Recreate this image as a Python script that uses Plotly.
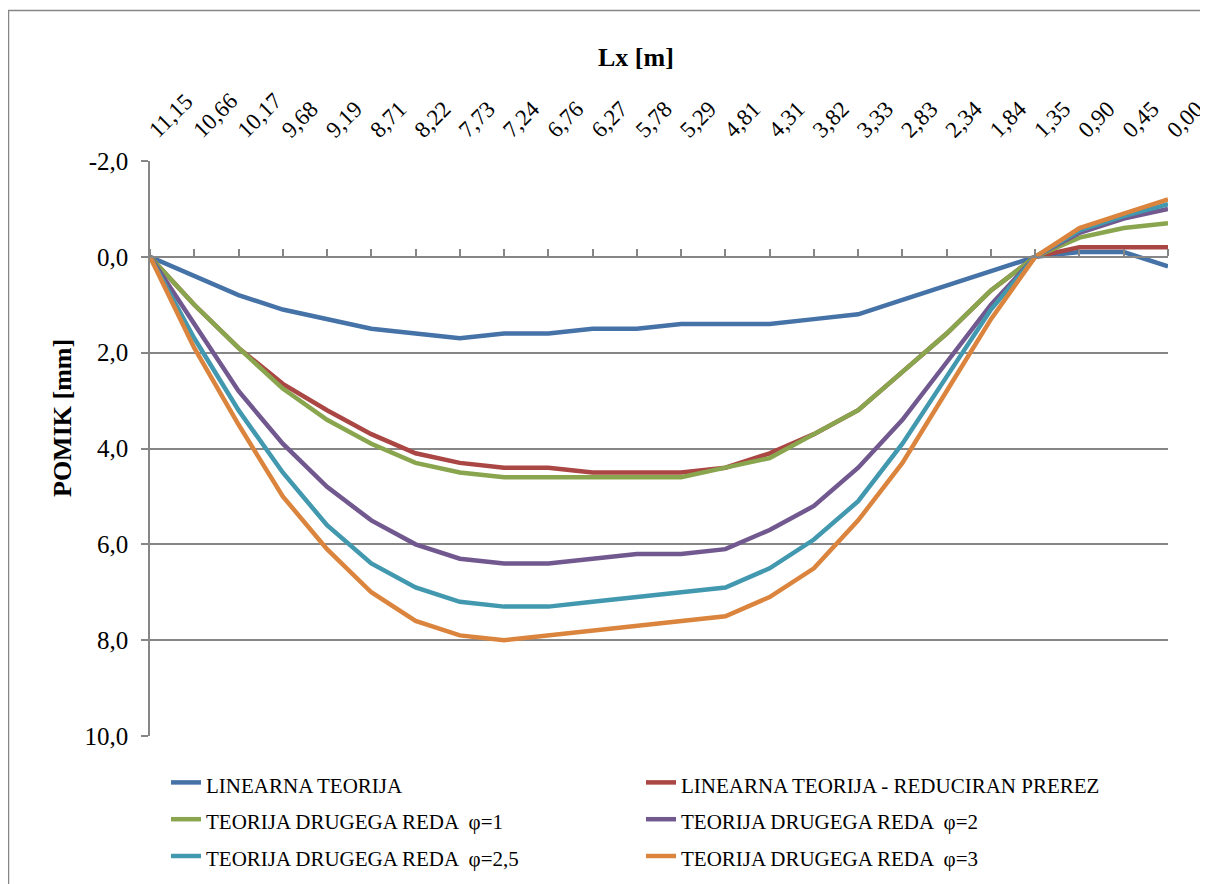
import plotly.graph_objects as go

# ---- data ----
lx_labels = ["11,15", "10,66", "10,17", "9,68", "9,19", "8,71", "8,22", "7,73", "7,24", "6,76",
             "6,27", "5,78", "5,29", "4,81", "4,31", "3,82", "3,33", "2,83", "2,34", "1,84",
             "1,35", "0,90", "0,45", "0,00"]

linearna = [0, 0.4, 0.8, 1.1, 1.3, 1.5, 1.6, 1.7, 1.6, 1.6, 1.5, 1.5, 1.4, 1.4, 1.4, 1.3, 1.2,
            0.9, 0.6, 0.3, 0, -0.1, -0.1, 0.2]
reduciran = [0, 1.0, 1.9, 2.65, 3.2, 3.7, 4.1, 4.3, 4.4, 4.4, 4.5, 4.5, 4.5, 4.4, 4.1, 3.7, 3.2,
             2.4, 1.6, 0.7, 0, -0.2, -0.2, -0.2]
phi_1 = [0, 1.0, 1.9, 2.75, 3.4, 3.9, 4.3, 4.5, 4.6, 4.6, 4.6, 4.6, 4.6, 4.4, 4.2, 3.7, 3.2,
         2.4, 1.6, 0.7, 0, -0.4, -0.6, -0.7]
phi_2 = [0, 1.4, 2.8, 3.9, 4.8, 5.5, 6.0, 6.3, 6.4, 6.4, 6.3, 6.2, 6.2, 6.1, 5.7, 5.2, 4.4,
         3.4, 2.2, 1.0, 0, -0.5, -0.8, -1.0]
phi_25 = [0, 1.7, 3.2, 4.5, 5.6, 6.4, 6.9, 7.2, 7.3, 7.3, 7.2, 7.1, 7.0, 6.9, 6.5, 5.9, 5.1,
          3.9, 2.5, 1.1, 0, -0.55, -0.85, -1.1]
phi_3 = [0, 1.9, 3.5, 5.0, 6.1, 7.0, 7.6, 7.9, 8.0, 7.9, 7.8, 7.7, 7.6, 7.5, 7.1, 6.5, 5.5,
         4.3, 2.8, 1.3, 0, -0.6, -0.9, -1.2]

series_names = ["LINEARNA TEORIJA", "LINEARNA TEORIJA - REDUCIRAN PREREZ",
                "TEORIJA DRUGEGA REDA  φ=1", "TEORIJA DRUGEGA REDA  φ=2",
                "TEORIJA DRUGEGA REDA  φ=2,5", "TEORIJA DRUGEGA REDA  φ=3"]
series_values = [linearna, reduciran, phi_1, phi_2, phi_25, phi_3]
series_colors = ["#4572A7", "#AA4643", "#89A54E", "#71588F", "#4198AF", "#DB843D"]

y_tickvals = [-2, 0, 2, 4, 6, 8, 10]
y_ticktext = ["-2,0", "0,0", "2,0", "4,0", "6,0", "8,0", "10,0"]

FONT = "Liberation Serif"
GRAY = "#868686"

fig = go.Figure()
for name, vals, col in zip(series_names, series_values, series_colors):
    fig.add_trace(go.Scatter(x=lx_labels, y=vals, mode="lines",
                             name='<span style="font-size:21px">' + name + '</span>',
                             line=dict(color=col, width=4.5), xaxis="x", yaxis="y"))

# helper (invisible) trace for the labelled top axis
n = len(lx_labels)
fig.add_trace(go.Scatter(x=list(range(n)), y=[None] * n, xaxis="x2", yaxis="y",
                         showlegend=False, hoverinfo="skip", mode="lines"))

OFF = 8  # page body margin
W, H = 1200, 876
ml, mr, mt, mb = 142, 40, 153, 148
pw, ph = W - ml - mr, H - mt - mb
y_range = [10, -2]
zero_pos = (y_range[0] - 0) / (y_range[0] - y_range[1])

def px_x(p):
    return (p - OFF - ml) / pw

def px_y(p):
    return (H - mb - (p - OFF)) / ph

fig.update_layout(
    width=W, height=H,
    margin=dict(l=ml, r=mr, t=mt, b=mb, autoexpand=False),
    paper_bgcolor="white", plot_bgcolor="white",
    font=dict(family=FONT, color="black"),
    showlegend=True,
    xaxis=dict(type="category", categoryorder="array", categoryarray=lx_labels,
               range=[0, n - 1], side="top", anchor="free", position=zero_pos,
               showline=True, linecolor=GRAY, linewidth=1.5,
               ticks="outside", ticklen=7, tickcolor=GRAY, tickwidth=1.5,
               showticklabels=False, showgrid=False, zeroline=False),
    xaxis2=dict(overlaying="x", side="top", anchor="y", range=[0, n - 1],
                tickmode="array", tickvals=list(range(n)), ticktext=lx_labels,
                tickangle=-45, tickfont=dict(family=FONT, size=23, color="black"),
                ticks="", showline=False, showgrid=False, zeroline=False,
                ticklabelstandoff=13, ticklabeloverflow="allow"),
    yaxis=dict(range=y_range, tickmode="array", tickvals=y_tickvals, ticktext=y_ticktext,
               tickfont=dict(family=FONT, size=25, color="black"),
               showgrid=True, gridcolor=GRAY, gridwidth=1.5,
               showline=True, linecolor=GRAY, linewidth=1.5,
               ticks="outside", ticklen=7, tickcolor=GRAY, tickwidth=1.5,
               zeroline=False, ticklabelstandoff=8),
    legend=dict(orientation="h", x=px_x(166), y=px_y(759), xanchor="left", yanchor="top",
                entrywidth=430, entrywidthmode="pixels",
                font=dict(family=FONT, size=26, color="black"),
                bgcolor="rgba(0,0,0,0)"),
    annotations=[
        dict(text="<b>Lx [m]</b>", x=px_x(636), y=px_y(57), xref="paper", yref="paper",
             showarrow=False, xanchor="center", yanchor="middle",
             font=dict(family=FONT, size=26, color="black")),
        dict(text="<b>POMIK [mm]</b>", x=px_x(62), y=px_y(418), xref="paper", yref="paper",
             showarrow=False, xanchor="center", yanchor="middle", textangle=-90,
             font=dict(family=FONT, size=26, color="black")),
    ],
    shapes=[dict(type="rect", xref="paper", yref="paper",
                 x0=px_x(8.5), y0=px_y(1000), x1=px_x(1300), y1=px_y(10.5),
                 line=dict(color=GRAY, width=1.5), fillcolor="rgba(0,0,0,0)", layer="below")],
)

fig.write_html("out.html")
